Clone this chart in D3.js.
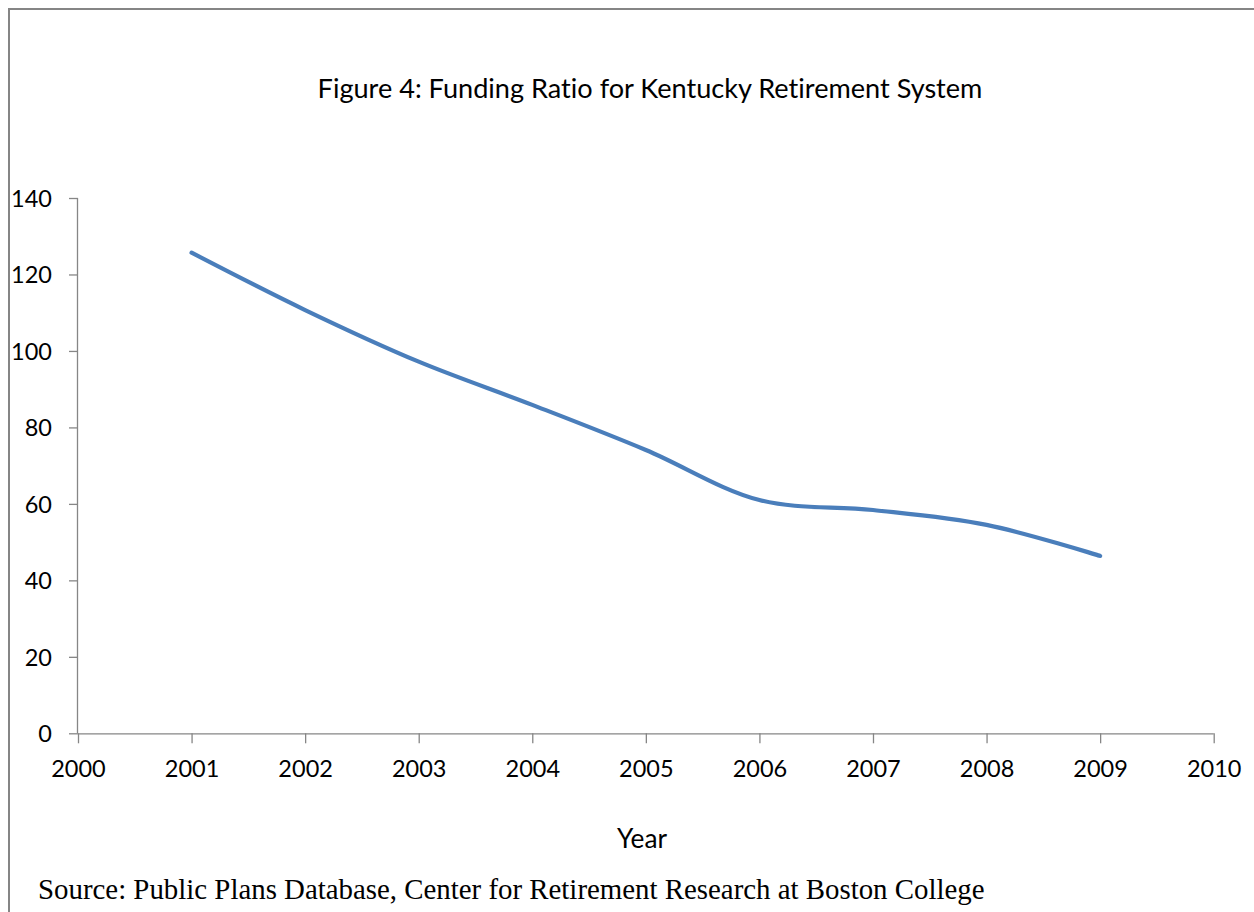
<!DOCTYPE html>
<html>
<head>
<meta charset="utf-8">
<script src="https://cdn.jsdelivr.net/npm/d3@7"></script>
<style>
  html, body { margin: 0; padding: 0; background: #fff; }
  svg { display: block; }
  text { font-variant-ligatures: none; }
</style>
</head>
<body>
<svg id="chart" width="1254" height="912"></svg>
<script>
// Funding ratio (%) of the Kentucky Retirement System by plan year
const years = [2001, 2002, 2003, 2004, 2005, 2006, 2007, 2008, 2009];
const fundingRatio = [125.7, 110.7, 97.2, 85.9, 74.1, 61.0, 58.4, 54.5, 46.4];
const xTicks = [2000, 2001, 2002, 2003, 2004, 2005, 2006, 2007, 2008, 2009, 2010];
const yTicks = [0, 20, 40, 60, 80, 100, 120, 140];

const titleText = "Figure 4: Funding Ratio for Kentucky Retirement System";
const xAxisTitle = "Year";
const sourceText = "Source: Public Plans Database,  Center for Retirement Research at Boston College";

const svg = d3.select("#chart");
const uiFont = "Lato, 'Open Sans', sans-serif";
const axisColor = "#868686";

// outer frame (runs off the right and bottom edges)
svg.append("path")
  .attr("d", "M9,930 V9 H1270")
  .attr("fill", "none")
  .attr("stroke", "#858585")
  .attr("stroke-width", 2);

const plot = { left: 78, right: 1213.7, top: 198, bottom: 733.3 };

const x = d3.scaleLinear().domain([2000, 2010]).range([plot.left, plot.right]);
const y = d3.scaleLinear().domain([0, 140]).range([plot.bottom, plot.top]);

// y axis
const yAxis = svg.append("g")
  .attr("transform", `translate(${plot.left},0)`)
  .call(d3.axisLeft(y).tickValues(yTicks).tickSize(9).tickPadding(17).tickFormat(d3.format("d")));
yAxis.select(".domain").attr("d", `M-0.5,${plot.top}V${plot.bottom}`);

// x axis
const xAxis = svg.append("g")
  .attr("transform", `translate(0,${plot.bottom})`)
  .call(d3.axisBottom(x).tickValues(xTicks).tickSize(10).tickPadding(17).tickFormat(d3.format("d")));
xAxis.select(".domain").attr("d", `M${plot.left},0.5H${plot.right}`);

[yAxis, xAxis].forEach(g => {
  g.select(".domain").attr("stroke", axisColor).attr("stroke-width", 1.3);
  g.selectAll(".tick line").attr("stroke", axisColor).attr("stroke-width", 1.3);
  g.selectAll(".tick text")
    .attr("fill", "#000")
    .style("font-family", uiFont)
    .style("font-size", "23.5px");
});
yAxis.selectAll(".tick text").attr("x", -26).attr("dy", "0.35em");
xAxis.selectAll(".tick text").attr("dy", "0.71em");

// smoothed data line
const line = d3.line()
  .x((d, i) => x(years[i]))
  .y(d => y(d))
  .curve(d3.curveCatmullRom.alpha(0.5));

svg.append("path")
  .datum(fundingRatio)
  .attr("d", line)
  .attr("fill", "none")
  .attr("stroke", "#4A7EBB")
  .attr("stroke-width", 4.2)
  .attr("stroke-linecap", "round")
  .attr("stroke-linejoin", "round");

// titles
function fitText(sel, width) {
  const w = sel.node().getComputedTextLength();
  const fs = parseFloat(sel.style("font-size"));
  sel.style("font-size", (fs * width / w) + "px");
}

const title = svg.append("text")
  .attr("x", 650).attr("y", 98)
  .attr("text-anchor", "middle")
  .style("font-family", uiFont)
  .style("font-size", "24px")
  .attr("fill", "#000")
  .text(titleText);
fitText(title, 665);

const xt = svg.append("text")
  .attr("x", 642).attr("y", 848)
  .attr("text-anchor", "middle")
  .style("font-family", uiFont)
  .style("font-size", "24px")
  .attr("fill", "#000")
  .text(xAxisTitle);
fitText(xt, 50);

const src = svg.append("text")
  .attr("x", 38).attr("y", 899)
  .style("font-family", "'Liberation Serif', 'Times New Roman', serif")
  .style("font-size", "25px")
  .attr("fill", "#000")
  .text(sourceText);
fitText(src, 947);
</script>
</body>
</html>
